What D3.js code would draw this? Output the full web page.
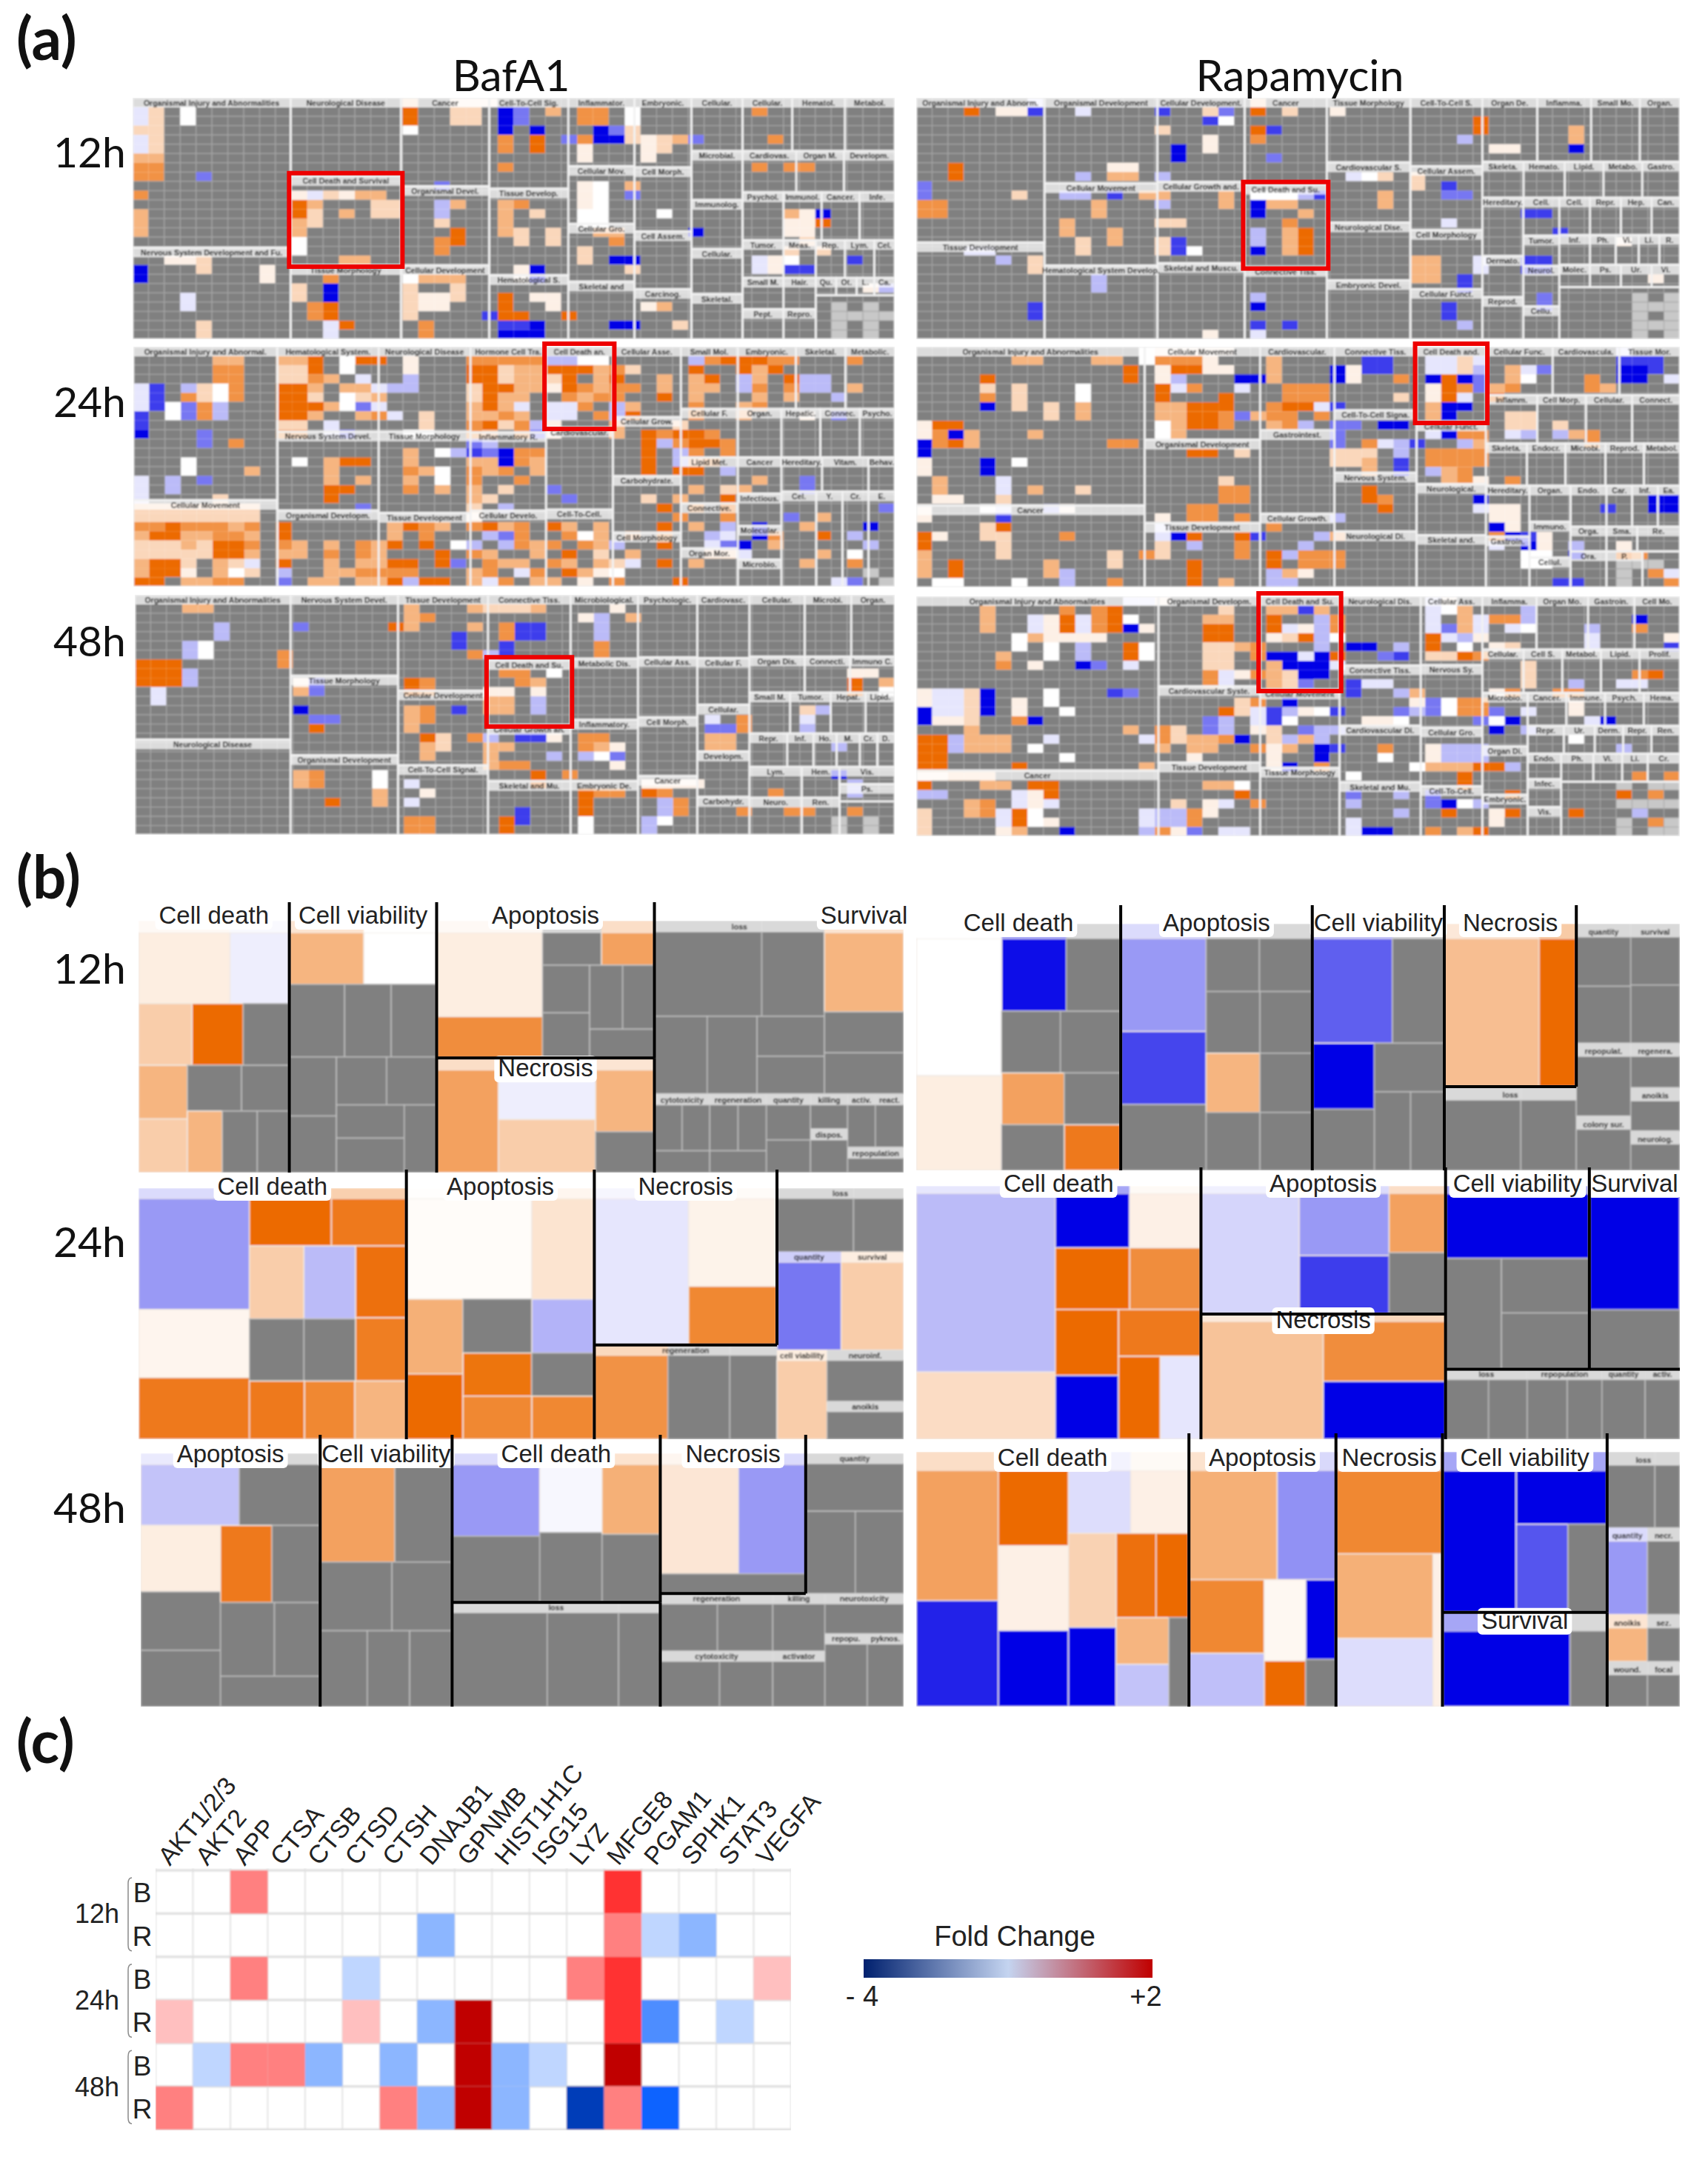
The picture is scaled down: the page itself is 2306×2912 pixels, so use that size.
<!DOCTYPE html>
<html>
<head>
<meta charset="utf-8">
<style>
  body { margin: 0; background: #fff; }
  text { font-family: "Liberation Sans", Arial, sans-serif; fill: #222; }
  .cal { font-family: Lato, sans-serif; fill: #111; }
</style>
<script src="https://cdn.jsdelivr.net/npm/d3@7"></script>
</head>
<body>
<svg id="fig" width="2306" height="2912"></svg>
<script>
// tree nodes are [weight, name?, ...children], leaves [weight] (no value) or [weight, z]
// '#' marks the boxed group, '^' a big label without rules, '!' a small label with a rule

// ---- panel (a): group layout, then the z-score cells as code grids
var aBaf12Groups = [1,
  [272, [597, 'Organismal Injury and Abnormalities'], [365, 'Nervous System Development and Fu.']],
  [190, [312, 'Neurological Disease'], [355, '#Cell Death and Survival'], [295, 'Tissue Morphology']],
  [152, [352, 'Cancer'], [315, 'Organismal Devel.'], [295, 'Cellular Development']],
  [136, [362, 'Cell-To-Cell Sig.'], [345, 'Tissue Develop.'], [255, 'Hematological S.']],
  [114, [272, 'Inflammator.'], [230, 'Cellular Mov.'], [230, 'Cellular Gro.'], [230, 'Skeletal and']],
  [98, [277, 'Embryonic.'], [255, 'Cell Morph.'], [230, 'Cell Assem.'], [200, 'Carcinog.']],
  [88, [212, 'Cellular.'], [195, 'Microbial.'], [195, 'Immunolog.'], [180, 'Cellular.'], [180, 'Skeletal.']],
  [262, [212, [85, 'Cellular.'], [90, 'Hematol.'], [85, 'Metabol.']],
    [165, [90, 'Cardiovas.'], [80, 'Organ M.'], [85, 'Developm.']],
    [190, [70, 'Psychol.'], [65, 'Immunol.'], [65, 'Cancer.'], [60, 'Infe.']],
    [150, [70, 'Tumor.'], [55, 'Meas.'], [50, 'Rep.'], [50, 'Lym.'], [35, 'Cel.']],
    [245, [70, [125, 'Small M.'], [120, 'Pept.']], [55, [125, 'Hair.'], [120, 'Repro.']],
      [135, [70, [35, 'Qu.'], [35, 'Ot.'], [30, 'L.'], [35, 'Ca.']], [175]]]]];
var aBaf12Cells = [
  "........ ........ .b..aaa. ........ ........ ........",
  "nb.w.... ........ .e..bb.j l.c.dd.w .......d ........",
  "nb.w.... ........ .e..bb.j l...dd.w ........ ........",
  "bb...... ........ .w.....j .j...jlb ........ ........",
  "nb...... ........ .......d .e.ldjjb abcl.... d.......",
  "nb...... ........ .......d .e..a... ab...... ........",
  "cc...... ........ ........ ....a... a....... ........",
  "dd...... ........ .......d ........ .......d .dd.....",
  "dd..l... ........ ........ ........ ........ ........",
  "........ ........ ...l.... ....aw.c ........ ........",
  "d....... ..anbacc ........ ....aw.l ........ ........",
  "........ ..ec...b b..mc..c d...aw.. ........ ........",
  "c....... ..eb.c.b b..m...c .b..ww.. .w...... .caj....",
  "c....... ..cb.... ...b...c ....ww.. ........ .aae....",
  "c....... ..c..... ....e..c b.b..cc. ...j.... .aa.....",
  "........ ..w..... ...de... b.b...d. ........ ..b.....",
  "........ ..w..... ...d.... ....b... ........ .b.b....",
  "..aab... .....cc. ........ ....b.jj .......n aw...k..",
  "j...b... a....... ........ aj.....b .......n akk.....",
  "j....... a...d... .wccc... aj...... ........ ........",
  "........ ..b.j... .b..b... ........ ........ ......am",
  "...n.... ..b.j... .baab..e .aa..... ........ ........",
  "...n.... ...de... .baa...e ..a..... ac...... ....g.g.",
  "........ ...de... .b....ke e..e.... ........ ....gggg",
  "....b... ....ne.. ..d....k kj....jj ..b..... ....g.g.",
  "....b... ....n... ..d....j jj...... ........ ....g.g."];

var aRap12Groups = [1,
  [250, [582, 'Organismal Injury and Abnorm.'], [390, 'Tissue Development']],
  [220, [342, 'Organismal Development'], [328, 'Cellular Movement'], [295, 'Hematological System Develop.']],
  [170, [337, 'Cellular Development.'], [325, 'Cellular Growth and.'], [305, 'Skeletal and Muscu.']],
  [160, [350, 'Cancer'], [330, '#Cell Death and Su.'], [290, 'Connective Tiss.']],
  [163, [257, 'Tissue Morphology'], [240, 'Cardiovascular S.'], [230, 'Neurological Dise.'], [235, 'Embryonic Devel.']],
  [140, [272, 'Cell-To-Cell S.'], [255, 'Cellular Assem.'], [235, 'Cell Morphology'], [200, 'Cellular Funct.']],
  [385, [257, [107, 'Organ De.'], [105, 'Inflamma.'], [95, 'Small Mo.'], [78, 'Organ.']],
    [145, [80, 'Skeleta.'], [80, 'Hemato.'], [75, 'Lipid.'], [75, 'Metabo.'], [73, 'Gastro.']],
    [570, [80, [235, 'Hereditary.'], [165, 'Dermato.'], [170, 'Reprod.']],
      [70, [150, 'Cell.'], [120, 'Tumor.'], [160, 'Neurol.'], [130, 'Cellu.']],
      [235, [150, [60, 'Cell.'], [60, 'Repr.'], [60, 'Hep.'], [55, 'Can.']],
        [120, [60, 'Inf.'], [50, 'Ph.'], [45, 'Vi.'], [40, 'Li.'], [40, 'R.']],
        [90, [60, 'Molec.'], [60, 'Ps.'], [60, 'Ur.'], [55, 'Vi.']], [210]]]]];
var aRap12Cells = [
  ".......n ........ .....b.. ........ ........ ........",
  "...e.aak ..n....k ..bl.e.b ..a..... ........ ........",
  "........ ........ ..kw.... ........ ...e.... ........",
  "........ .......b .....ek. ........ ...e.... .c......",
  "........ ........ ..a..d.. ........ ..m..... .c......",
  "........ ........ j.a..... ........ ....aa.. .j......",
  "........ ........ j.....l. ........ ........ ........",
  "..e..... ....aa.. ........ ........ ........ ........",
  "..e..... ..m.cc.m ........ ...nwb.b ........ ........",
  "l....... ........ ........ .......b .k...... ........",
  "l.....b. .mm.k.cc ...c.www mk...c.. .ll..... ........",
  "dd...... ...c...m ...c.jcc .....c.. ........ ........",
  "dd...... ...c.... .....j.. c....... ......kk ........",
  "........ .c.....b b......d ........ .n...... ........",
  "........ .c..c... .....m.c e....... ........ k.......",
  "........ ..b.c..b k....m.c e....... ........ ....a...",
  "...nn... ..b....b kw...j.c e....... ........ ........",
  ".....m.b ........ ........ .......c c..n..kk ........",
  ".......b ........ ........ .......c c..n..kk ........",
  "........ ...m.... ........ .......c c.k..... ......a.",
  "........ ...m.... ........ ........ ..k..... ........",
  "........ ........ .....m.. ........ .......l .....g.g",
  ".......k ........ .....j.. ........ .k.....l .....ggg",
  ".......k ........ ........ ........ .k...... .....g.g",
  "........ ........ .....k.k ........ ..m..... .....ggg",
  "........ ........ ..a..n.. ........ ........ .....g.g"];

var aBaf24Groups = [1,
  [248, [620, 'Organismal Injury and Abnormal.'], [350, 'Cellular Movement']],
  [174, [340, 'Hematological System.'], [315, 'Nervous System Devel.'], [305, 'Organismal Developm.']],
  [158, [340, 'Neurological Disease'], [325, 'Tissue Morphology'], [295, 'Tissue Development']],
  [130, [343, 'Hormone Cell Tra.'], [313, 'Inflammatory R.'], [305, 'Cellular Develo.']],
  [115, [325, '#Cell Death an.'], [330, 'Cardiovascular.'], [310, 'Cell-To-Cell.']],
  [117, [280, 'Cellular Asse.'], [235, 'Cellular Grow.'], [225, 'Carbohydrate.'], [215, 'Cell Morphology']],
  [368, [250, [98, 'Small Mol.'], [100, 'Embryonic.'], [85, 'Skeletal.'], [85, 'Metabolic.']],
    [195, [98, 'Cellular F.'], [75, 'Organ.'], [67, 'Hepatic.'], [68, 'Connec.'], [60, 'Psycho.']],
    [520, [98, [180, 'Lipid Met.'], [175, 'Connective.'], [150, 'Organ Mor.']],
      [75, [140, 'Cancer'], [125, 'Infectious.'], [130, 'Molecular.'], [105, 'Microbio.']],
      [195, [135, [70, 'Hereditary.'], [80, 'Vitam.'], [45, 'Behav.']],
        [375, [60, 'Cel.'], [45, 'Y.'], [45, 'Cr.'], [45, 'E.']]]]]];
var aBaf24Cells = [
  "........ ........ ........ ........ ........ ........",
  ".....cc. .cce.wee .a...ddd ddmmww.. ...mdeee dd...d..",
  ".....dd. .bbe.w.. .a...eeb cceeecdb ...e..ec e.......",
  ".....dd. .bbdc.n. .m...eeb ccbe.ce. .c.ce.mc .emm....",
  "nk.mbwd. .eec.ccn mm...bee ccaedcdd .c.cc.md .dmm.c..",
  "nk.dbwd. .eeb.wbc .....bec c..dcdd. .e.c...c .c..m...",
  "nkwldm.. .eeecwln .....cec n.nnd.mc ...d..cd ........",
  "k.wldm.. .eec..cd n.b..ccd c.nn.dme ...d..c. ..a.l...",
  "k....... .bb.n... ..b..deb dma...c. ..b..... ........",
  "j...l... .dd.nl.. .ww..dc. dla...c. edeed... ........",
  "....l.d. ........ .....lm. ........ emdeed.. ........",
  "........ ........ .c.wmklj dd...... e.md.d.. ........",
  "...w.... ..w.cee. .c...ccj dc...... e.mcd... ........",
  "...w...c ....c... .dcw.dcd .c...... e.ee.m.. ........",
  "n.m.l... ....c.c. .c.w.d.. d....... .......c ..l.....",
  "n.m..... ....ee.. .d.c.c.b ..l..... ...c.bc. ..l.....",
  "n....b.. ....e... .....cb. ...l.... b.c..e.. ........",
  "bbbbbbbb ......l. .....b.m ........ .e.d.e.. .......l",
  "bbbbbbbb ........ .....a.. ........ ..d..d.. .l.c....",
  "ddedddcd .e...... cedc.dec d.ec.c.. .e.c.m.j ..c...j.",
  "ceeccddc .e...... c.d...ml d..dwc.c .d..mn.j d..e.m..",
  "bbbcbeed .dc.c.dc e.e.wm.m dcd.dcm. .e..nlj. c.....m.",
  "bbbbbeec .cc.d.dc ...e.dc. .c.e.b.c ....bbn. ...c.w..",
  "ceeb.cbn .e..c.cc ee.el.dc c.dc.cbn .e.c.... ..c..d..",
  "ceea.cwb .m..ccdd dd...cd. nd.ecaw. ........ ......g.",
  "ee.ccdd. .l.cc.cc emee.cnd .cc.a.d. ..e..... ....nl.g"];

var aRap24Groups = [1,
  [445, [640, 'Organismal Injury and Abnormalities'], [330, 'Cancer']],
  [225, [375, 'Cellular Movement'], [335, 'Organismal Development'], [260, 'Tissue Development']],
  [145, [335, 'Cardiovascular.'], [335, 'Gastrointest.'], [295, 'Cellular Growth.']],
  [160, [255, 'Connective Tiss.'], [250, 'Cell-To-Cell Signa.'], [235, 'Nervous System.'], [225, 'Neurological Di.']],
  [135, [300, '#Cell Death and.'], [250, 'Cellular Funct.'], [205, 'Neurological.'], [210, 'Skeletal and.']],
  [378, [195, [130, 'Cellular Func.'], [130, 'Cardiovascula.'], [118, 'Tissue Mor.']],
    [195, [100, 'Inflamm.'], [95, 'Cell Morp.'], [90, 'Cellular.'], [93, 'Connect.']],
    [170, [80, 'Skeleta.'], [75, 'Endocr.'], [78, 'Microbi.'], [75, 'Reprod.'], [70, 'Metabol.']],
    [410, [85, [205, 'Hereditary.'], [205, 'Gastroin.']],
      [80, [145, 'Organ.'], [145, 'Immuno.'], [120, 'Cellul.']],
      [213, [165, [70, 'Endo.'], [50, 'Car.'], [50, 'Inf.'], [43, 'Ea.']],
        [100, [70, 'Orga.'], [60, 'Sma.'], [83, 'Re.']], [145, [70, 'Ora.'], [70, 'P.'], [73]]]]]];
var aRap24Cells = [
  "........ ......wa aaaa.... ........ ........ ....n...",
  "......cc ...cc.wd dda...c. ....kk.. nnbn.... ....kkk.",
  "........ .....e.a eeaa..c. ..jakk.. nnbm.cnl ....jjk.",
  "....e... .....e.a m...jjc. ..ja..d. jejl.cw. ..d.jj.n",
  "....b.b. ..w....e nd..n..d dd...... aedlcd.. ..dc....",
  "....d.b. ..w....e ...e...d dd....b. aen.e... ........",
  "....j.b. b.c....c ceee..de enk..... cjj..... ........",
  "........ b.c....c ceedlcdd .d...... cj...bb. ........",
  "aee..... .......w ceed..cd m.ll.jj. .....bb. b.......",
  "adjc...c .......w c....... ..l..... njdd.nm. mcd.....",
  "jdec.... ....dd.. ........ ..l.dnmk ..mc.... ..d.....",
  "j....... ........ .ee.b... ..bbb.m. dddd.... ........",
  "a...j.w. ........ ........ ..bbc.k. dddd.... ........",
  "a...j... ........ ........ ....c.k. mcd..... ........",
  ".c...n.. ........ ...b.... ........ .cda.d.. ........",
  ".c...n.c ..b..... ...dd... ....e... ........ ........",
  ".aa..b.. ........ ...dd... ....ed.. ...j.... ......jj",
  "a...wn.. ma...... .dd..... .....e.. ...naa.. ...k..jj",
  "a....k.. .......a .dd.d... ..m..... ....aa.. ........",
  "....be.. .......n ......d. ........ ....ja.. ........",
  "ea..bb.. .d.....n je..ek.. .mc..... ....djka ........",
  "e....b.. .......b .m..d... m....... ....n.ja .m..a...",
  "c....b.. ....b.db ....d.em ddd..... ......ww .j..ed..",
  "c.e..... c...b... .e....e. ddd..... ......ww ....ggg.",
  "c.e..... cm...... .e....mc a....... ........ ....g.dn",
  ".ww...w. .m..d... .e.c..mm ........ ........ kk..g..d"];

var aBaf48Groups = [1,
  [268, [585, 'Organismal Injury and Abnormalities'], [385, 'Neurological Disease']],
  [185, [325, 'Nervous System Devel.'], [320, 'Tissue Morphology'], [320, 'Organismal Development']],
  [155, [385, 'Tissue Development'], [300, 'Cellular Development'], [280, 'Cell-To-Cell Signal.']],
  [142, [262, 'Connective Tiss.'], [260, '#Cell Death and Su.'], [225, 'Cellular Growth an.'], [215, 'Skeletal and Mu.']],
  [116, [255, 'Microbiological.'], [245, 'Metabolic Dis.'], [245, 'Inflammatory.'], [215, 'Embryonic De.']],
  [102, [250, 'Psychologic.'], [240, 'Cellular Ass.'], [235, 'Cell Morph.'], [235, 'Cancer']],
  [90, [250, 'Cardiovasc.'], [185, 'Cellular F.'], [185, 'Cellular.'], [180, 'Developm.'], [150, 'Carbohydr.']],
  [250, [250, [95, 'Cellular.'], [80, 'Microbi.'], [75, 'Organ.']],
    [145, [95, 'Organ Dis.'], [78, 'Connecti.'], [77, 'Immuno C.']],
    [165, [70, 'Small M.'], [70, 'Tumor.'], [60, 'Hepat.'], [50, 'Lipid.']],
    [135, [65, 'Repr.'], [45, 'Inf.'], [40, 'Ho.'], [40, 'M.'], [30, 'Cr.'], [30, 'D.']],
    [275, [90, [125, 'Lym.'], [150, 'Neuro.']], [65, [125, 'Hem.'], [150, 'Ren.']], [95, [70, 'Vis.'], [70, 'Ps.'], [135]]]]];
var aBaf48Cells = [
  "........ ........ ........ ........ ........ ........",
  "...cc... ........ .c...cbb bc....a. ........ ........",
  "........ ........ .cd..... ....am.c ........ ........",
  ".....m.. ..l..... ec...c.d kk...m.. ........ ........",
  ".....m.. ........ ....k..d kk...m.. ........ ........",
  "...mw... ........ ....k..k .....d.. ........ ........",
  "...mw... .d...... .....dmk .....d.. ........ ........",
  "eee..... .d...... ........ ........ ........ ........",
  "eeem.... ........ .......d d.w..... ........ .....aa.",
  "eeem.... ..al.... .ed..... dc...... ........ .....e.c",
  ".n...... ..cl.... .ed...aa .a...... ........ .....e.w",
  ".n...... ........ ......cc .m...... ........ ........",
  "........ ..j..... .cd.k.cc .m...... ........ ..bm....",
  "........ ...ll... .cd..... ........ ....n.d. ..n.....",
  "........ ...e.... .c...... ........ ....lld. ..m.....",
  "........ ........ ..eb.dm. kka.dd.. ....cc.. ........",
  "........ ........ ..cb..cc ....dca. ....cc.. ....m...",
  "........ ........ ..c...c. ..m.mwl. ........ ........",
  "........ ........ ......cd d.....a. ........ ........",
  "........ ..cd...w ........ .e.d.... ........ ....j...",
  "........ ..cd...w .n...... .e...... aaaa.... .....m..",
  "........ .......c ..a..... ....edd. ed...... d....m..",
  "........ ....e..c .n...... ....e... .md..... ........",
  "........ ........ ........ k...e... .md...d. .dd..d..",
  "........ ........ .dd....e k...w... mw...... ....g.g.",
  "........ ........ .dd....e ....w... m....... ....g.g."];

var aRap48Groups = [1,
  [472, [700, 'Organismal Injury and Abnormalities'], [265, 'Cancer']],
  [198, [360, 'Organismal Developm.'], [305, 'Cardiovascular Syste.'], [295, 'Tissue Development']],
  [155, [375, '#Cell Death and Su.'], [315, 'Cellular Movement'], [275, 'Tissue Morphology']],
  [158, [275, 'Neurological Dis.'], [240, 'Connective Tiss.'], [225, 'Cardiovascular Di.'], [215, 'Skeletal and Mu.']],
  [120, [275, 'Cellular Ass.'], [250, 'Nervous Sy.'], [235, 'Cellular Gro.'], [200, 'Cell-To-Cell.']],
  [385, [215, [105, 'Inflamma.'], [100, 'Organ Mo.'], [90, 'Gastroin.'], [88, 'Cell Mo.']],
    [175, [80, 'Cellular.'], [75, 'Cell S.'], [75, 'Metabol.'], [75, 'Lipid.'], [78, 'Prolif.']],
    [580, [88, [200, 'Microbio.'], [180, 'Organ Di.'], [155, 'Embryonic.']],
      [295, [130, [75, 'Cancer.'], [75, 'Immune.'], [75, 'Psych.'], [70, 'Hema.']],
        [110, [70, 'Repr.'], [60, 'Ur.'], [55, 'Derm.'], [55, 'Repr.'], [55, 'Ren.']],
        [325, [65, [100, 'Endo.'], [110, 'Infec.'], [115, 'Vis.']], [230, [110, [50, 'Ph.'], [45, 'Vi.'], [40, 'Li.'], [50, 'Cr.']], [215]]]]]]];
var aRap48Cells = [
  "........ .....nna ........ ........ na...... ........",
  "....c... .d.de... ...b..cc kc...... nwc...m. ........",
  "....c..n aendew.. ..cc..e. .md..... n.cnddm. .....j..",
  "....c..n aendeja. ..ee..en amd..... nlcn.nw. ..m..d..",
  "......wc aaaa.... ..ee..ab emw..... enma.... ..n....a",
  "......w. w.m..ew. ..bbcd.. .m.jj.m. e.w.ab.. ..n....k",
  ".....c.. w.m..ew. ..bb.djj nje..lk. bbed.... ........",
  ".....d.a ..jl.n.. ..bb..cj jjn..... ......b. ........",
  "........ ........ ..dnadcb jj...... ......b. .....de.",
  "........ ........ ..dn..cb l..knn.. ......b. .m..nn..",
  "annbj... w...kl.. ........ ...k..mc ....ad.. dd......",
  "annbj.a. w....... ....bd.j .......a lwdd.... .a......",
  "jnnbj.a. .w...... ...ebnkm awk...lm lwddl.n. .a......",
  "jaab..dj ........ ..lm.nkw ....aaw. ...lwj.. ..nj....",
  "...c.... .....c.d b.lm.ab. lmm..... ....j.m. ........",
  "eemccc.. n.....nd bccdj.bm cm...... ........ .w......",
  "eemccc.w .......c .cc..dac .jk..d.. ammm.... ....m...",
  "ee...... .w...... .a....a. .j...w.. ammm.... ........",
  "ee....e. ......c. ......aj .d.....w ccceem.. ........",
  "aabbb... ........ ........ ...w.... ..e..... .....d.d",
  "e...cc.e e....... ..ccw... ........ ..e..... ....g.gg",
  "mm....na e....... ....e... ...l..m. l....e.. ....e.d.",
  "...cd.na n....... b.an.d.. ...m.... ljwm.... ....gggg",
  "b..cdnew ......nm mda..... ......m. .e..ae.. .e...m..",
  "b....new a.....nm md...... ...n.... ....a... ....g.dg",
  "b....ac. .j....md al.nn... ...njj.. d.ce.... ....g.gg"];

// ---- panel (b): zoomed treemaps of the boxed group
var bBaf12 = [1,
  [259, 'Cell death',
    [287, [157, 0.35], [102, -0.2]],
    [250, [92, 1], [88, 3], [79]],
    [434, [84, [217, 1.5], [217, 1]],
      [175, [185, [93], [82]], [249, [60, 1.5], [60], [55]]]]],
  [253, 'Cell viability',
    [210, [128, 1.5], [125, 0]],
    [295, [95], [80], [78]],
    [470, [80, [240], [230]],
      [170, [195, [85], [85]], [275, [115, [135], [140]], [55]]]]],
  [374,
    [550, 'Apoptosis',
      [180, [335, 0.35], [165, 2.3]],
      [190, [130, [100], [90, 1.9]], [370, [80, [190], [180]], [110, [255, [57], [55]], [115]]]]],
    [459, 'Necrosis',
      [105, 1.9],
      [165, [200, -0.2], [214, 1]],
      [100, [250, 1.5], [165]]]],
  [428,
    [700, [290, 'loss',
        [340, [180], [105]],
        [312, [90], [85], [115, [160], [150]]]],
      [135, '^Survival', [320, 1.5], [165], [165]]],
    [319, [94, 'cytotoxicity', [200, [45], [45]], [95]],
      [96, 'regeneration', [200, [48], [48]], [95]],
      [75, 'quantity', [140], [130]],
      [63, [140, 'killing', [1]], [175, 'dispos.', [1]]],
      [95, [210, [47, 'activ.', [1]], [48, 'react.', [1]]], [100, 'repopulation', [1]]]]]];

var bRap12 = [1,
  [395, 'Cell death', [1,
    [165, [555, 0], [382, 0.35]],
    [230, [295, [125, -2.8], [105]], [250, [112], [115]], [210, [120, 1.9], [108]], [185, [120], [108, 2.7]]]]],
  [370, 'Apoptosis', [1,
    [165, [375, -1.2], [295, -2.2], [265]],
    [205, [215, [103], [102]], [250, [103], [100]], [240, [103, 1.5], [100]], [235, [103], [100]]]]],
  [255, 'Cell viability',
    [420, [155, -1.9], [100]],
    [510, [120, [265, -3], [245]], [135, [195], [315, [70], [65]]]]],
  [255,
    [653, 'Necrosis', [178, 1.3], [70, 3]],
    [335, 'loss', [145], [105]]],
  [200, [1,
    [103, [483, 'quantity', [1, [195], [225]]], [295, 'repopulat.', [1]], [220, 'colony sur.', [1]]],
    [93, [483, 'survival', [1, [190], [230]]], [180, 'regenera.', [1]], [175, 'anoikis', [1]], [160, 'neurolog.', [1]]]]]];

var bBaf24 = [1,
  [459, 'Cell death', [1,
    [190, [310, -1.2], [190, 0.2], [172, 2.7]],
    [269, [132, [140, 3], [128, 2.7]],
      [376, [182, [203, [93, 1], [88, -0.8]], [173, [93], [88]]], [87, [200, 2.9], [176, 2.6]]],
      [162, [93, 2.7], [85, 2.4], [87, 1.5]]]]],
  [322, 'Apoptosis',
    [280, [215, 0.07], [107, 0.55]],
    [390, [97, [208, 1.6], [182, 3]], [118, [150], [120, 2.8], [120, 2.4]], [107, [150, -0.9], [120], [120, 2.4]]]],
  [313,
    [432, 'Necrosis', [160, -0.3], [150, [240, 0.25], [160, 2.4]]],
    [260, 'regeneration', [125, 2.2], [105], [80]]],
  [217,
    [175, 'loss', [130], [85]],
    [270, [110, 'quantity', [1, -1.6]], [107, 'survival', [1, 1]]],
    [245, [85, 'cell viability', [1, 1]], [130, [135, 'neuroinf.', [1]], [100, 'anoikis', [1]]]]]];

var bRap24 = [1,
  [553, 'Cell death', [1,
    [270, [498, -0.8], [187, 0.7]],
    [283, [152, [143, -3], [137, 0.3]], [172, [143, 3], [137, 2.3]],
      [362, [123, [183, 3], [177, -3]], [160, [130, 2.7], [230, [80, 3], [78, -0.3]]]]]]],
  [475,
    [353, 'Apoptosis', [188, -0.5], [172, [165, -1.2], [155, -2.3]], [108, [160, 1.9], [165]]],
    [345, 'Necrosis', [235, 1.2], [235, [160, 2.3], [155, -3]]]],
  [455,
    [510, [278, 'Cell viability', [180, -3], [305, [105], [165, [150], [155]]]],
      [175, 'Survival', [325, -3], [165]]],
    [195, [155, 'loss', [1, [80], [72]]], [142, 'repopulation', [1, [75], [65]]],
      [82, 'quantity', [1]], [66, 'activ.', [1]]]]];

var bBaf48 = [1,
  [306, 'Apoptosis',
    [170, [168, -0.7], [138]],
    [505, [136, [185, 0.35], [163], [157]], [170, [215, [88, 2.7], [82]], [205, [92], [78]], [85]]]],
  [225, 'Cell viability',
    [270, [127, 1.9], [97]],
    [190, [122], [102]],
    [210, [80], [72], [72]]],
  [355,
    [410, 'Cell death', [149, [195, -1.2], [180]], [106, [185, -0.1], [190]], [99, [190, 1.6], [185]]],
    [287, '!loss', [160], [120], [70]]],
  [415,
    [388, [248, 'Necrosis', [305, [130, 0.5], [112, -1.2]], [55]],
      [167, 'quantity', [130], [225, [80], [78]]]],
    [313, [190, [155, 'regeneration', [95], [92]], [150, 'cytotoxicity', [97], [87]]],
      [88, [155, 'killing', [1]], [150, 'activator', [1]]],
      [133, [110, 'neurotoxicity', [1]], [200, [70, 'repopu.', [1]], [60, 'pyknos.', [1]]]]]]];

var bRap48 = [1,
  [525, 'Cell death', [1,
    [158, [362, 1.9], [295, -2.6]],
    [135, [210, 3], [235, 0.3], [212, -3]],
    [232, [175, [120, -0.4], [112, 0.3]],
      [483, [92, [262, 0.9], [221, -3]],
        [140, [235, [75, 2.9], [62, 3]], [248, [100, [130, 1.5], [118, -0.7]], [38]]]]]]],
  [283, 'Apoptosis',
    [304, [170, 1.6], [113, -1.3]],
    [353, [145, [205, 2.4], [148, -0.75]], [80, [225, 0.15], [127, 3]], [58, [222, -3], [131]]]],
  [205, 'Necrosis',
    [232, 2.4],
    [425, [187, [235, 1.6], [190, -0.4]], [18, 0.3]]],
  [317,
    [443, 'Cell viability', [142, -3], [175, [148, -3], [242, [97, -2], [73]]]],
    [260, 'Survival', [243, -3], [70]]],
  [140,
    [210, 'loss', [92], [48]],
    [240, [75, 'quantity', [1, -1.2]], [60, 'necr.', [1]]],
    [130, [75, 'anoikis', [1, 1.5]], [60, 'sez.', [1]]],
    [125, [75, 'wound.', [1]], [60, 'focal', [1]]]]];

// ---- panel (c): log fold change heat map
var genes = ['AKT1/2/3', 'AKT2', 'APP', 'CTSA', 'CTSB', 'CTSD', 'CTSH', 'DNAJB1', 'GPNMB',
  'HIST1H1C', 'ISG15', 'LYZ', 'MFGE8', 'PGAM1', 'SPHK1', 'STAT3', 'VEGFA'];
var rowLabels = ['B', 'R', 'B', 'R', 'B', 'R'];
var timeLabels = ['12h', '24h', '48h'];
var fcB12 = [0, 0, 0.5, 0, 0, 0, 0, 0, 0, 0, 0, 0, 0.8, 0, 0, 0, 0];
var fcR12 = [0, 0, 0, 0, 0, 0, 0, -0.9, 0, 0, 0, 0, 0.5, -0.5, -0.9, 0, 0];
var fcB24 = [0, 0, 0.5, 0, 0, -0.5, 0, 0, 0, 0, 0, 0.5, 0.8, 0, 0, 0, 0.25];
var fcR24 = [0.25, 0, 0, 0, 0, 0.25, 0, -0.9, 2, 0, 0, 0, 0.8, -1.4, 0, -0.5, 0];
var fcB48 = [0, -0.5, 0.5, 0.5, -0.9, 0, -0.9, 0, 2, -0.9, -0.5, 0, 2, 0, 0, 0, 0];
var fcR48 = [0.5, 0, 0, 0, 0, 0, 0.5, -0.9, 2, -0.9, 0, -3, 0.5, -1.9, 0, 0, 0];
var foldChanges = [fcB12, fcR12, fcB24, fcR24, fcB48, fcR48];

// codes used in the (a) grids
var zCodes = { a: 0.3, b: 0.8, c: 1.5, d: 2.2, e: 3, w: 0, n: -0.3, m: -0.8, l: -1.6, k: -2.3, j: -3 };

var svg = d3.select('#fig');
var defs = svg.append('defs');
defs.append('filter').attr('id', 'soft')
  .attr('x', 0).attr('y', 0).attr('width', 1).attr('height', 1)
  .append('feGaussianBlur').attr('stdDeviation', 0.8);

var zColor = d3.scaleLinear().domain([-3, 0, 3]).range(['#0000e6', '#ffffff', '#ec6a00']);
var fcColor = d3.scaleLinear().domain([-4, -2, 0, 1, 2]).range(['#001f70', '#005cff', '#ffffff', '#ff0000', '#c00000']);
var GREY = '#808080';

function kids(d) {
  var k = d.slice(1).filter(Array.isArray);
  return k.length ? k : null;
}
function nameOf(n) { return typeof n.data[1] === 'string' ? n.data[1] : null; }

// weights alternate between splitting across and splitting down
function tile(parent, x0, y0, x1, y1) {
  parent.children.forEach(function(c) { c.value = c.data[0]; });
  parent.value = d3.sum(parent.children, function(c) { return c.value; });
  (parent.depth % 2 ? d3.treemapSlice : d3.treemapDice)(parent, x0, y0, x1, y1);
}

function layout(tree, box, pad) {
  var root = d3.hierarchy(tree, kids);
  d3.treemap().tile(tile).size([box.x1 - box.x0, box.y1 - box.y0])
    .paddingTop(function(n) { return nameOf(n) ? pad(nameOf(n)) : 0; })(root);
  root.each(function(n) { n.x0 += box.x0; n.x1 += box.x0; n.y0 += box.y0; n.y1 += box.y0; });
  return root;
}

// ---------- panel (a)
function drawOverview(groups, cells, box) {
  var g = svg.append('g');
  var soft = g.append('g').attr('filter', 'url(#soft)');
  var grid = cells.map(function(r) { return r.replace(/ /g, ''); });
  var x = d3.scaleBand().domain(d3.range(48)).range([box.x0, box.x1]);
  var y = d3.scaleBand().domain(d3.range(grid.length)).range([box.y0, box.y1]);
  var flat = [];
  grid.forEach(function(row, r) {
    d3.range(48).forEach(function(c) { flat.push({ r: r, c: c, k: row[c] || '.' }); });
  });
  soft.selectAll('rect.cell').data(flat).enter().append('rect')
    .attr('class', 'cell')
    .attr('x', function(d) { return x(d.c); })
    .attr('y', function(d) { return y(d.r); })
    .attr('width', x.bandwidth())
    .attr('height', y.bandwidth())
    .attr('fill', function(d) {
      if (d.k === '.') return GREY;
      if (d.k === 'g') return '#c8c8c8';
      return zColor(zCodes[d.k]);
    })
    .attr('stroke', function(d) { return d.k === '.' || d.k === 'g' ? '#a8a8a8' : 'none'; })
    .attr('stroke-width', 1);

  var root = layout(groups, box, function() { return 0; });
  var named = root.descendants().filter(function(n) { return n.depth && !n.children; });
  soft.selectAll('rect.head').data(named.filter(nameOf)).enter().append('rect')
    .attr('class', 'head')
    .attr('x', function(d) { return d.x0; })
    .attr('y', function(d) { return d.y0; })
    .attr('width', function(d) { return d.x1 - d.x0; })
    .attr('height', 13)
    .attr('fill', '#fff').attr('fill-opacity', 0.72);
  soft.selectAll('rect.edge').data(named).enter().append('rect')
    .attr('class', 'edge')
    .attr('x', function(d) { return d.x0; })
    .attr('y', function(d) { return d.y0; })
    .attr('width', function(d) { return d.x1 - d.x0; })
    .attr('height', function(d) { return d.y1 - d.y0; })
    .attr('fill', 'none').attr('stroke', '#f2f2f2').attr('stroke-width', 2.5);
  soft.selectAll('text').data(named.filter(nameOf)).enter().append('text')
    .attr('x', function(d) { return (d.x0 + d.x1) / 2; })
    .attr('y', function(d) { return d.y0 + 10.5; })
    .attr('text-anchor', 'middle')
    .attr('font-size', 10.5)
    .attr('font-weight', 'bold')
    .style('fill', '#000')
    .text(function(d) { return nameOf(d).replace('#', ''); });
  g.selectAll('rect.box').data(named.filter(function(n) { return (nameOf(n) || '')[0] === '#'; })).enter().append('rect')
    .attr('class', 'box')
    .attr('x', function(d) { return d.x0 - 2; })
    .attr('y', function(d) { return d.y0 - 4; })
    .attr('width', function(d) { return d.x1 - d.x0 + 4; })
    .attr('height', function(d) { return d.y1 - d.y0 + 6; })
    .attr('fill', 'none').attr('stroke', '#ee0000').attr('stroke-width', 6);
}

// ---------- panel (b)
function drawZoom(tree, box) {
  var g = svg.append('g');
  var soft = g.append('g').attr('filter', 'url(#soft)');
  var labels = g.append('g');
  var root = layout(tree, box, function(name) { return /^[A-Z^]/.test(name) ? box.pad : box.small; });
  var leaves = root.leaves().filter(function(n) { return !nameOf(n); });
  soft.selectAll('rect.leaf').data(leaves).enter().append('rect')
    .attr('class', 'leaf')
    .attr('x', function(d) { return d.x0; })
    .attr('y', function(d) { return d.y0; })
    .attr('width', function(d) { return d.x1 - d.x0; })
    .attr('height', function(d) { return d.y1 - d.y0; })
    .attr('fill', function(d) { return typeof d.data[1] === 'number' ? zColor(d.data[1]) : GREY; })
    .attr('stroke', function(d) { return typeof d.data[1] === 'number' ? '#f1e9e2' : '#bdbdbd'; })
    .attr('stroke-width', 1.5);

  var groups = root.descendants().filter(nameOf);
  // header bands take a paler tone of the cell underneath
  groups.forEach(function(gr) {
    var top = gr.y0 + (/^[A-Z^]/.test(nameOf(gr)) ? box.pad : box.small);
    var under = gr.leaves().filter(function(l) { return Math.abs(l.y0 - top) < 1; });
    soft.selectAll(null).data(under).enter().append('rect')
      .attr('x', function(d) { return d.x0; })
      .attr('y', gr.y0)
      .attr('width', function(d) { return d.x1 - d.x0; })
      .attr('height', top - gr.y0)
      .attr('fill', function(d) {
        if (typeof d.data[1] !== 'number') return '#d9d9d9';
        return d3.interpolateRgb(zColor(d.data[1]), '#ffffff')(0.65);
      });
  });

  var small = groups.filter(function(n) { return /^[a-z!]/.test(nameOf(n)); });
  soft.selectAll('text.small').data(small).enter().append('text')
    .attr('class', 'small')
    .attr('x', function(d) { return (d.x0 + d.x1) / 2; })
    .attr('y', function(d) { return d.y0 + box.small - 3; })
    .attr('text-anchor', 'middle')
    .attr('font-size', 10.5).attr('font-weight', 'bold')
    .style('fill', '#000')
    .text(function(d) { return nameOf(d).replace('!', ''); });

  var big = groups.filter(function(n) { return /^[A-Z^]/.test(nameOf(n)); });
  big.forEach(function(d) {
    var inner = d.y0 > box.y0 + 1;
    var t = labels.append('text')
      .attr('x', (d.x0 + d.x1) / 2)
      .attr('y', d.y0 + box.pad + (inner ? box.inner : -box.off))
      .attr('text-anchor', 'middle')
      .attr('font-size', 33)
      .text(nameOf(d).replace('^', ''));
    var b = t.node().getBBox();
    labels.insert('rect', function() { return t.node(); })
      .attr('x', b.x - 5).attr('y', b.y + 2)
      .attr('width', b.width + 10).attr('height', b.height - 1)
      .attr('rx', 6).attr('fill', '#fff');
  });

  // black rules round the big groups
  var edges = [];
  groups.forEach(function(d) {
    var name = nameOf(d);
    if (name[0] === '^' || /^[a-z]/.test(name)) return;
    if (d.x1 < box.x1 - 2) edges.push([d.x1, d.y0 - (d.y0 < box.y0 + 1 ? 25 : 0), d.x1, d.y1]);
    if (name[0] !== '!' && d.y1 < box.y1 - 2) edges.push([d.x0, d.y1, d.x1, d.y1]);
  });
  g.selectAll('line').data(edges).enter().append('line')
    .attr('x1', function(d) { return d[0]; }).attr('y1', function(d) { return d[1]; })
    .attr('x2', function(d) { return d[2]; }).attr('y2', function(d) { return d[3]; })
    .attr('stroke', '#000').attr('stroke-width', 4);
}

// ---------- panel (c)
function drawHeat() {
  var x = d3.scaleBand().domain(genes).range([210, 1068]);
  var y = d3.scaleBand().domain(d3.range(6)).range([2525, 2875]);
  var g = svg.append('g');
  var soft = g.append('g').attr('filter', 'url(#soft)');
  soft.selectAll('line.v').data(genes.concat(['end'])).enter().append('line')
    .attr('class', 'v')
    .attr('x1', function(d, i) { return 210 + i * x.bandwidth(); })
    .attr('x2', function(d, i) { return 210 + i * x.bandwidth(); })
    .attr('y1', 2522).attr('y2', 2876)
    .attr('stroke', '#dcdcdc').attr('stroke-width', 1.5);
  soft.selectAll('line.h').data(d3.range(7)).enter().append('line')
    .attr('class', 'h')
    .attr('x1', 210).attr('x2', 1068)
    .attr('y1', function(d) { return 2525 + d * y.bandwidth(); })
    .attr('y2', function(d) { return 2525 + d * y.bandwidth(); })
    .attr('stroke', '#dedede').attr('stroke-width', 3);
  var flat = [];
  foldChanges.forEach(function(row, r) {
    row.forEach(function(v, c) { if (v !== 0) flat.push({ r: r, gene: genes[c], v: v }); });
  });
  soft.selectAll('rect').data(flat).enter().append('rect')
    .attr('x', function(d) { return x(d.gene); })
    .attr('y', function(d) { return y(d.r); })
    .attr('width', x.bandwidth())
    .attr('height', y.bandwidth())
    .attr('fill', function(d) { return fcColor(d.v); });

  g.selectAll('text.gene').data(genes).enter().append('text')
    .attr('class', 'gene')
    .attr('transform', function(d) { return 'translate(' + (x(d) + x.bandwidth() / 2 - 6) + ',2520) rotate(-50)'; })
    .attr('font-size', 34)
    .text(function(d) { return d; });
  g.selectAll('text.row').data(rowLabels).enter().append('text')
    .attr('class', 'row')
    .attr('x', 192)
    .attr('y', function(d, i) { return y(i) + y.bandwidth() / 2 + 14; })
    .attr('text-anchor', 'middle')
    .attr('font-size', 37)
    .text(function(d) { return d; });
  g.selectAll('text.time').data(timeLabels).enter().append('text')
    .attr('class', 'time')
    .attr('x', 161)
    .attr('y', function(d, i) { return y(2 * i) + y.bandwidth() + 13; })
    .attr('text-anchor', 'end')
    .attr('font-size', 36)
    .text(function(d) { return d; });
  g.selectAll('path.brace').data(timeLabels).enter().append('path')
    .attr('class', 'brace')
    .attr('d', function(d, i) {
      var t = y(2 * i) + 10, b = y(2 * i + 1) + y.bandwidth() - 8;
      return 'M178,' + t + 'Q173,' + t + ' 173,' + (t + 8) + 'L173,' + (b - 8) + 'Q173,' + b + ' 178,' + b;
    })
    .attr('fill', 'none').attr('stroke', '#8a8a8a').attr('stroke-width', 1.5);

  // legend
  var grad = defs.append('linearGradient').attr('id', 'fc');
  [[0, '#00206e'], [0.5, '#c4d4f0'], [1, '#c00000']].forEach(function(s) {
    grad.append('stop').attr('offset', s[0]).attr('stop-color', s[1]);
  });
  g.append('rect').attr('x', 1166).attr('y', 2645).attr('width', 390).attr('height', 25).attr('fill', 'url(#fc)');
  g.append('text').attr('x', 1370).attr('y', 2627).attr('text-anchor', 'middle').attr('font-size', 38).text('Fold Change');
  g.append('text').attr('x', 1164).attr('y', 2708).attr('text-anchor', 'middle').attr('font-size', 38).text('- 4');
  g.append('text').attr('x', 1547).attr('y', 2708).attr('text-anchor', 'middle').attr('font-size', 38).text('+2');
}

// panel boxes
drawOverview(aBaf12Groups, aBaf12Cells, { x0: 179, x1: 1208, y0: 132, y1: 458 });
drawOverview(aRap12Groups, aRap12Cells, { x0: 1237, x1: 2268, y0: 132, y1: 458 });
drawOverview(aBaf24Groups, aBaf24Cells, { x0: 180, x1: 1208, y0: 468, y1: 792 });
drawOverview(aRap24Groups, aRap24Cells, { x0: 1237, x1: 2268, y0: 468, y1: 793 });
drawOverview(aBaf48Groups, aBaf48Cells, { x0: 182, x1: 1208, y0: 803, y1: 1127 });
drawOverview(aRap48Groups, aRap48Cells, { x0: 1237, x1: 2268, y0: 805, y1: 1129 });

drawZoom(bBaf12, { x0: 187, x1: 1220, y0: 1243, y1: 1583, pad: 16, small: 15, off: 12, inner: 9 });
drawZoom(bRap12, { x0: 1237, x1: 2268, y0: 1247, y1: 1580, pad: 20, small: 18, off: 10, inner: 9 });
drawZoom(bBaf24, { x0: 187, x1: 1220, y0: 1604, y1: 1943, pad: 14, small: 14, off: 5, inner: 9 });
drawZoom(bRap24, { x0: 1237, x1: 2268, y0: 1601, y1: 1943, pad: 10, small: 14, off: 2, inner: 9 });
drawZoom(bBaf48, { x0: 190, x1: 1220, y0: 1962, y1: 2304, pad: 15, small: 14, off: 3, inner: 9 });
drawZoom(bRap48, { x0: 1237, x1: 2268, y0: 1960, y1: 2304, pad: 25, small: 18, off: 6, inner: -3 });

drawHeat();

// titles
var titles = [
  ['(a)', 22, 81, 80, 'bold'], ['(b)', 22, 1213, 80, 'bold'], ['(c)', 22, 2380, 80, 'bold'],
  ['BafA1', 690, 123, 59, 'normal'], ['Rapamycin', 1755, 123, 59, 'normal'],
  ['12h', 72, 226, 57, 'normal'], ['24h', 72, 563, 57, 'normal'], ['48h', 72, 886, 57, 'normal'],
  ['12h', 72, 1328, 57, 'normal'], ['24h', 72, 1697, 57, 'normal'], ['48h', 72, 2056, 57, 'normal']
];
svg.selectAll('text.cal').data(titles).enter().append('text')
  .attr('class', 'cal')
  .attr('x', function(d) { return d[1]; })
  .attr('y', function(d) { return d[2]; })
  .attr('text-anchor', function(d) { return d[1] > 600 ? 'middle' : 'start'; })
  .attr('font-size', function(d) { return d[3]; })
  .attr('font-weight', function(d) { return d[4]; })
  .text(function(d) { return d[0]; });
</script>
</body>
</html>
